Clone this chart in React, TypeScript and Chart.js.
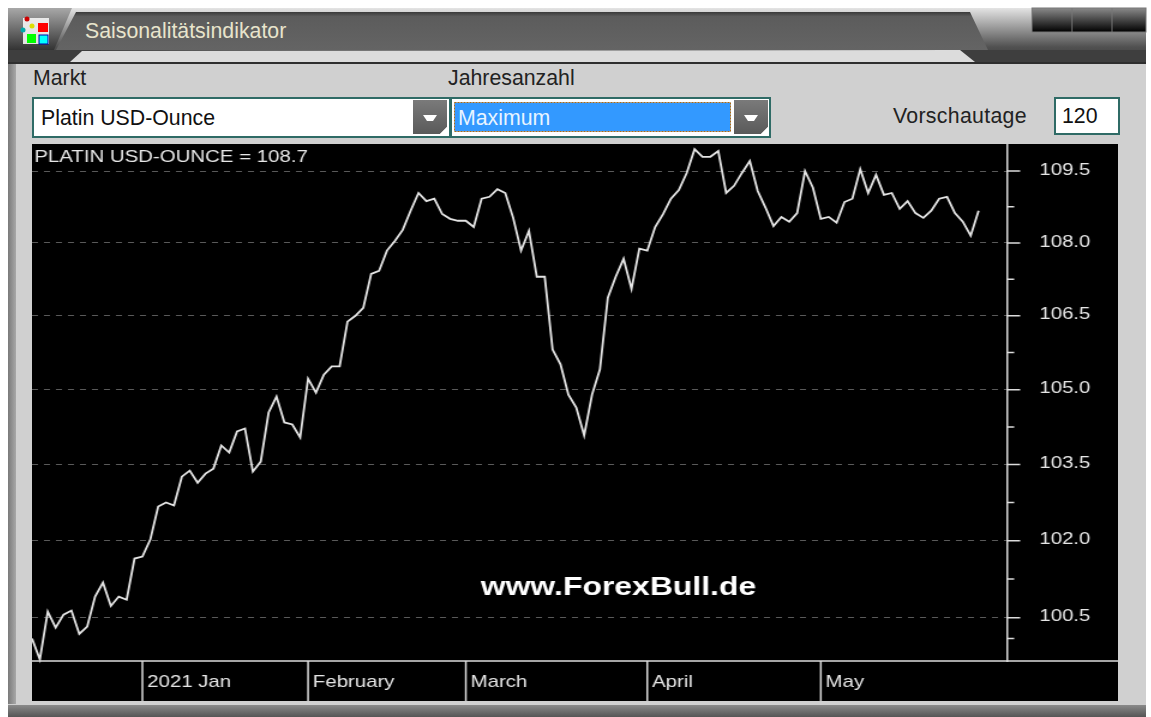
import React, { useEffect, useRef } from "react";
import { Chart, registerables } from "chart.js";

Chart.register(...registerables);

const seriesValues: number[] = [
  100.10, 99.70, 100.62, 100.31, 100.56, 100.64, 100.19, 100.33, 100.91, 101.18,
  100.73, 100.91, 100.85, 101.65, 101.69, 102.02, 102.67, 102.75, 102.69, 103.26,
  103.38, 103.14, 103.32, 103.42, 103.88, 103.74, 104.16, 104.22, 103.36, 103.56,
  104.54, 104.86, 104.34, 104.30, 104.04, 105.22, 104.94, 105.30, 105.47, 105.47,
  106.38, 106.50, 106.66, 107.36, 107.42, 107.84, 108.04, 108.27, 108.67, 109.04,
  108.87, 108.92, 108.60, 108.50, 108.46, 108.46, 108.33, 108.92, 108.96, 109.12,
  109.04, 108.52, 107.84, 108.25, 107.30, 107.30, 105.81, 105.51, 104.90, 104.64,
  104.08, 104.90, 105.41, 106.87, 107.30, 107.67, 107.05, 107.88, 107.84, 108.33,
  108.60, 108.92, 109.10, 109.46, 109.96, 109.80, 109.80, 109.92, 109.04, 109.19,
  109.46, 109.71, 109.08, 108.73, 108.35, 108.54, 108.44, 108.62, 109.50, 109.15,
  108.50, 108.54, 108.42, 108.85, 108.92, 109.54, 109.04, 109.42, 109.00, 109.04,
  108.71, 108.87, 108.62, 108.52, 108.67, 108.92, 108.96, 108.62, 108.44, 108.15,
  108.67,
];
const monthLabels: string[] = ["2021 Jan", "February", "March", "April", "May"];
const monthIndexes: number[] = [14, 35, 55, 78, 100];
const majorTicks: number[] = [109.5, 108, 106.5, 105, 103.5, 102, 100.5];
const minorTicks: number[] = [108.75, 107.25, 105.75, 104.25, 102.75, 101.25, 100.1];
const xMax = 123.6;
const yMin = 99.67;
const yMax = 110.07;
const seriesTitle = "PLATIN USD-OUNCE = 108.7";
const watermark = "www.ForexBull.de";

const STRETCH = 1.2;
const CANVAS_W = 1086 / STRETCH;
const CANVAS_H = 557;
const LINE = "#dcdcdc";
const TEXT = "#e6e6e6";
const FONT = "'Liberation Sans', Arial, sans-serif";

const chartDecor = {
  id: "chartDecor",
  afterDraw(chart: any) {
    const { ctx, chartArea, scales, width, height } = chart;
    const y = scales.y;
    const x = scales.x;
    ctx.save();
    ctx.strokeStyle = LINE;
    ctx.lineWidth = 1.5;
    ctx.beginPath();
    majorTicks.forEach((v) => {
      const p = y.getPixelForValue(v);
      ctx.moveTo(chartArea.right, p);
      ctx.lineTo(chartArea.right + 11, p);
    });
    minorTicks.forEach((v) => {
      const p = y.getPixelForValue(v);
      ctx.moveTo(chartArea.right, p);
      ctx.lineTo(chartArea.right + 6, p);
    });
    ctx.moveTo(0, chartArea.bottom);
    ctx.lineTo(width, chartArea.bottom);
    monthIndexes.forEach((m) => {
      const p = x.getPixelForValue(m);
      ctx.moveTo(p, chartArea.bottom);
      ctx.lineTo(p, height);
    });
    ctx.stroke();
    ctx.textBaseline = "middle";
    ctx.textAlign = "left";
    ctx.fillStyle = TEXT;
    ctx.font = `17px ${FONT}`;
    ctx.fillText(seriesTitle, 2, 13);
    ctx.fillStyle = "#ffffff";
    ctx.font = `bold 26.6px ${FONT}`;
    ctx.fillText(watermark, 374, 444);
    ctx.restore();
  },
};

const labelStyle: React.CSSProperties = {
  position: "absolute",
  font: `21.3px ${FONT}`,
  color: "#222",
  whiteSpace: "nowrap",
  lineHeight: "24px",
};

function ArrowButton({ x }: { x: number }) {
  return (
    <g>
      <polygon
        points={`${x},100 ${x + 34},100 ${x + 34},127 ${x + 27},134 ${x},134`}
        fill="url(#btn)"
      />
      <polygon points={`${x + 27},134 ${x + 34},127 ${x + 34},134`} fill="#fff" />
      <polygon
        points={`${x + 10},115 ${x + 24},115 ${x + 20},121 ${x + 14},121`}
        fill="#fff"
      />
    </g>
  );
}

function Chrome() {
  return (
    <svg width={1151} height={717} style={{ position: "absolute", left: 0, top: 0 }}>
      <defs>
        <linearGradient id="leftTab" x1="0" y1="0" x2="0" y2="1">
          <stop offset="0" stopColor="#a8a8a8" />
          <stop offset="1" stopColor="#333" />
        </linearGradient>
        <linearGradient id="tab" x1="0" y1="0" x2="0" y2="1">
          <stop offset="0" stopColor="#3a3a3a" />
          <stop offset="0.12" stopColor="#5c5c5c" />
          <stop offset="1" stopColor="#646464" />
        </linearGradient>
        <linearGradient id="right" x1="0" y1="0" x2="0" y2="1">
          <stop offset="0" stopColor="#e4e4e4" />
          <stop offset="0.7" stopColor="#505050" />
          <stop offset="1" stopColor="#3a3a3a" />
        </linearGradient>
        <linearGradient id="win" x1="0" y1="0" x2="0" y2="1">
          <stop offset="0" stopColor="#8a8a8a" />
          <stop offset="1" stopColor="#000" />
        </linearGradient>
        <linearGradient id="btn" x1="0" y1="0" x2="0" y2="1">
          <stop offset="0" stopColor="#7a7a7a" />
          <stop offset="1" stopColor="#5a5a5a" />
        </linearGradient>
        <linearGradient id="edge" x1="0" y1="0" x2="1" y2="0">
          <stop offset="0" stopColor="#7a7a7a" />
          <stop offset="1" stopColor="#a8a8a8" />
        </linearGradient>
        <linearGradient id="foot" x1="0" y1="0" x2="0" y2="1">
          <stop offset="0" stopColor="#8a8a8a" />
          <stop offset="1" stopColor="#555" />
        </linearGradient>
      </defs>
      <rect x={8} y={8} width={1138} height={709} fill="#d0d0d0" />
      <rect x={8} y={64} width={8} height={640} fill="url(#edge)" />
      <rect x={8} y={705} width={1138} height={12} fill="url(#foot)" />
      <rect x={8} y={8} width={1138} height={56} fill="url(#right)" />
      <rect x={8} y={50} width={1138} height={12} fill="#3e3e3e" />
      <polygon points="8,8 72,8 54,50 8,50" fill="url(#leftTab)" />
      <polygon points="56,50 76,12 970,12 988,50" fill="url(#tab)" />
      <polygon points="70,62 82,51 960,50 975,62" fill="#dcdcdc" />
      <rect x={8} y={62} width={1138} height={2} fill="#2e2e2e" />
      <g stroke="#777" strokeWidth={1}>
        <rect x={1032} y={8} width={114} height={24} fill="url(#win)" />
        <line x1={1072} y1={8} x2={1072} y2={32} />
        <line x1={1112} y1={8} x2={1112} y2={32} />
      </g>
      <g>
        <rect x={23} y={18} width={26} height={26} fill="#f4f4f4" opacity={0.9} />
        <rect x={38} y={23} width={10} height={9} fill="#f00" />
        <rect x={27} y={34} width={9} height={9} fill="#0f0" />
        <rect x={39} y={35} width={9} height={9} fill="#0ff" stroke="#00a" />
        <circle cx={27} cy={19} r={2.5} fill="#c00" />
        <circle cx={32} cy={26} r={2.5} fill="#dd0" />
        <circle cx={23} cy={30} r={2.5} fill="#0aa" />
      </g>
      <rect x={33} y={98} width={417} height={39} fill="#fff" stroke="#2f6b66" strokeWidth={2} />
      <rect x={451} y={98} width={319} height={39} fill="#fff" stroke="#2f6b66" strokeWidth={2} />
      <rect
        x={454.5}
        y={102.5}
        width={276}
        height={29}
        fill="#3399ff"
        stroke="#b06a10"
        strokeDasharray="2 1"
      />
      <ArrowButton x={413} />
      <ArrowButton x={734} />
      <rect x={1055} y={98} width={64} height={36} fill="#fff" stroke="#2f6b66" strokeWidth={2} />
      <rect x={32} y={144} width={1086} height={557} fill="#000" />
    </svg>
  );
}

export default function App() {
  const ref = useRef<HTMLCanvasElement>(null);

  useEffect(() => {
    const chart = new Chart(ref.current!, {
      type: "line",
      data: {
        datasets: [
          {
            data: seriesValues.map((v, i) => ({ x: i, y: v })),
            borderColor: "#e4e4e4",
            borderWidth: 1.8,
            pointRadius: 0,
            tension: 0,
            clip: false,
          },
        ],
      },
      plugins: [chartDecor],
      options: {
        animation: false,
        responsive: false,
        layout: { padding: 0 },
        plugins: { legend: { display: false }, tooltip: { enabled: false } },
        scales: {
          x: {
            type: "linear",
            min: 0,
            max: xMax,
            afterBuildTicks: (s: any) => {
              s.ticks = monthIndexes.map((value) => ({ value }));
            },
            afterFit: (s: any) => {
              s.height = 40;
              s.paddingLeft = 0;
              s.paddingRight = 0;
            },
            grid: { display: false },
            border: { display: false },
            ticks: {
              autoSkip: false,
              maxRotation: 0,
              minRotation: 0,
              align: "start",
              labelOffset: 4,
              padding: 3,
              color: TEXT,
              font: { family: FONT, size: 17 },
              callback: (v: any) => monthLabels[monthIndexes.indexOf(Number(v))] ?? "",
            },
          },
          y: {
            type: "logarithmic",
            position: "right",
            min: yMin,
            max: yMax,
            afterBuildTicks: (s: any) => {
              s.ticks = [...majorTicks, ...minorTicks]
                .sort((a, b) => b - a)
                .map((value) => ({ value }));
            },
            afterFit: (s: any) => {
              s.width = CANVAS_W - (975 / STRETCH);
              s.paddingTop = 0;
              s.paddingBottom = 0;
            },
            grid: {
              drawTicks: false,
              lineWidth: 1,
              color: (c: any) => (majorTicks.includes(c.tick?.value) ? "#5a5a5a" : "transparent"),
            },
            border: { color: LINE, width: 1.5, dash: [5, 5] },
            ticks: {
              autoSkip: false,
              padding: 27,
              labelOffset: -1,
              color: TEXT,
              font: { family: FONT, size: 17 },
              callback: (v: any) => (majorTicks.includes(Number(v)) ? Number(v).toFixed(1) : ""),
            },
          },
        },
      },
    } as any);
    return () => chart.destroy();
  }, []);

  return (
    <div style={{ position: "absolute", left: 0, top: 0, width: 1151, height: 717, overflow: "hidden", background: "#fff" }}>
      <Chrome />
      <div style={{ ...labelStyle, left: 85, top: 19, color: "#e8e4cc" }}>Saisonalitätsindikator</div>
      <div style={{ ...labelStyle, left: 33, top: 66 }}>Markt</div>
      <div style={{ ...labelStyle, left: 448, top: 66 }}>Jahresanzahl</div>
      <div style={{ ...labelStyle, left: 41, top: 106, color: "#111" }}>Platin USD-Ounce</div>
      <div style={{ ...labelStyle, left: 458, top: 106, color: "#e8f4ff" }}>Maximum</div>
      <div style={{ ...labelStyle, left: 893, top: 104, letterSpacing: "0.3px" }}>Vorschautage</div>
      <div style={{ ...labelStyle, left: 1062, top: 104, color: "#111" }}>120</div>
      <canvas
        ref={ref}
        width={CANVAS_W}
        height={CANVAS_H}
        style={{
          position: "absolute",
          left: 32,
          top: 144,
          width: CANVAS_W,
          height: CANVAS_H,
          background: "#000",
          transform: `scaleX(${STRETCH})`,
          transformOrigin: "0 0",
        }}
      />
    </div>
  );
}
